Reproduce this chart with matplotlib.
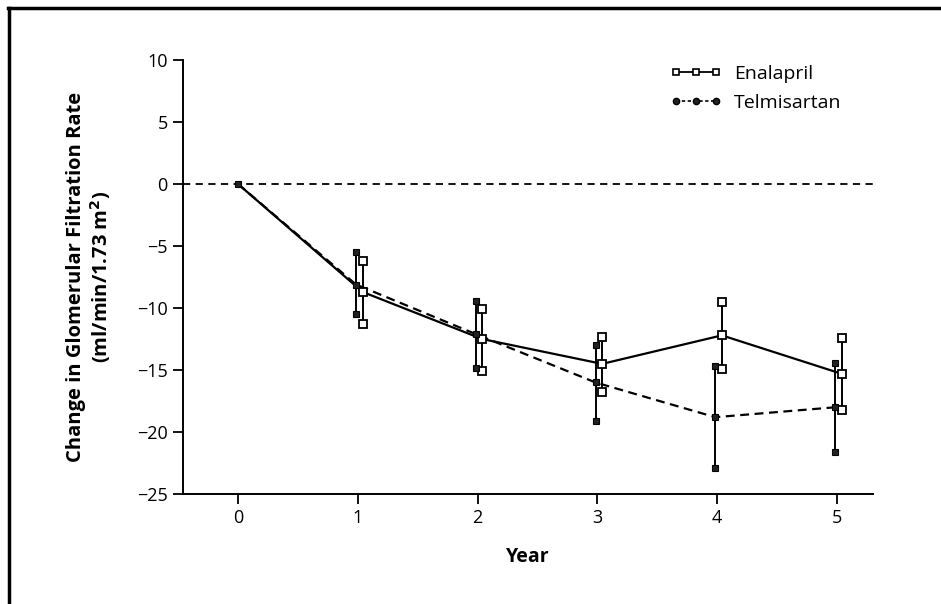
import matplotlib.pyplot as plt
from matplotlib.lines import Line2D

plt.rcParams["font.family"] = ["Open Sans", "DejaVu Sans"]

# ===== data =====
years = [0, 1, 2, 3, 4, 5]

enal_mean = [0, -8.7, -12.5, -14.5, -12.2, -15.3]
enal_hi = [0, -6.2, -10.1, -12.3, -9.5, -12.4]
enal_lo = [0, -11.3, -15.1, -16.8, -14.9, -18.2]

telm_mean = [0, -8.1, -12.1, -16.0, -18.8, -18.0]
telm_hi = [0, -5.5, -9.4, -13.0, -14.7, -14.4]
telm_lo = [0, -10.5, -14.8, -19.1, -22.9, -21.6]

# small horizontal offsets so the bars don't overlap
enal_x = [y + (0.04 if y > 0 else 0) for y in years]
telm_x = [y - (0.015 if y > 0 else 0) for y in years]

fig = plt.figure(figsize=(9.41, 6.04), dpi=100)
ax = fig.add_axes([0.1945, 0.182, 0.733, 0.7185])

# reference line at zero
ax.axhline(0, color="black", lw=1.3, ls=(0, (4, 3)), zorder=1)

# ===== Enalapril =====
ax.vlines(enal_x[1:], enal_lo[1:], enal_hi[1:], color="black", lw=1.4, zorder=2)
ax.plot(enal_x, enal_mean, color="black", lw=1.6, zorder=3)
sq_open = dict(marker="s", ms=5.5, mfc="white", mec="black", mew=1.3, ls="none", zorder=4)
ax.plot(enal_x[1:], enal_mean[1:], **sq_open)
ax.plot(enal_x[1:], enal_hi[1:], **sq_open)
ax.plot(enal_x[1:], enal_lo[1:], **sq_open)

# ===== Telmisartan =====
ax.vlines(telm_x[1:], telm_lo[1:], telm_hi[1:], color="black", lw=1.4, zorder=2)
ax.plot(telm_x, telm_mean, color="black", lw=1.6, ls=(0, (4, 2.5)), zorder=3)
sq_fill = dict(marker="s", ms=5, mfc="#222222", mec="black", mew=0.8, ls="none", zorder=5)
ax.plot(telm_x, telm_mean, **sq_fill)
ax.plot(telm_x[1:], telm_hi[1:], **sq_fill)
ax.plot(telm_x[1:], telm_lo[1:], **sq_fill)

# ===== axes =====
ax.set_xlim(-0.46, 5.3)
ax.set_ylim(-25, 10)
ax.set_xticks(years)
ax.set_yticks(range(-25, 11, 5))
ax.set_yticklabels([str(v).replace("-", "\u2212") for v in range(-25, 11, 5)])
ax.spines["top"].set_visible(False)
ax.spines["right"].set_visible(False)
for s in ["left", "bottom"]:
    ax.spines[s].set_linewidth(1.4)
ax.tick_params(direction="out", length=7, width=1.3, labelsize=13, pad=4)

ax.set_xlabel("Year", fontsize=14, fontweight="bold", labelpad=14)
ax.set_ylabel("Change in Glomerular Filtration Rate\n(ml/min/1.73 m$^\\mathbf{2}$)",
              fontsize=14.5, fontweight="bold", linespacing=1.1)
ax.yaxis.set_label_coords(-0.102, 0.5)

# ===== legend =====
handles = [
    Line2D([], [], color="black", lw=1.3, marker="s", ms=5, mfc="white", mec="black", mew=1.2),
    Line2D([], [], color="black", lw=1.2, ls=(0, (2, 1.5)), marker="o", ms=4.5, mfc="#222222", mec="black"),
]
ax.legend(handles, ["Enalapril", "Telmisartan"], loc="upper right", bbox_to_anchor=(0.98, 1.03),
          numpoints=3, frameon=False, fontsize=14, handlelength=2.7, handletextpad=0.6,
          labelspacing=0.6)

# partial frame (top and left) around the picture
fig.add_artist(Line2D([0.009, 1.0], [0.9865, 0.9865], color="black", lw=2.5, transform=fig.transFigure))
fig.add_artist(Line2D([0.0095, 0.0095], [0.0, 0.987], color="black", lw=2.5, transform=fig.transFigure))

plt.savefig("out.png", dpi=100)
plt.close()
